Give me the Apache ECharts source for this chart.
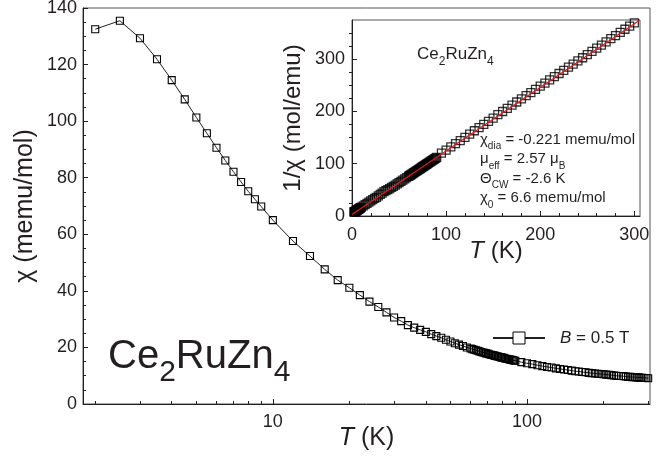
<!DOCTYPE html>
<html>
<head>
<meta charset="utf-8">
<script src="https://cdn.jsdelivr.net/npm/echarts@6/dist/echarts.min.js"></script>
<style>
  html, body { margin: 0; padding: 0; background: #fff; }
  #chart { width: 672px; height: 461px; }
</style>
</head>
<body>
<div id="chart"></div>
<script>
// temperatures (K), same grid for both panels
const temps = [2, 2.5, 3, 3.5, 4, 4.5, 5, 5.5, 6, 6.5, 7, 7.5, 8, 8.5, 9, 10,
  12, 14, 16, 18, 20, 22, 24, 26, 28, 30, 32, 34, 36, 38, 40, 42, 44,
  46, 48, 50, 52, 54, 56, 58,
  60, 61, 62, 63, 64, 65, 66, 67, 68, 69, 70, 71, 72, 73, 74, 75, 76, 77, 78, 79,
  80, 81, 82, 83, 84, 85, 86, 87, 88, 89, 90,
  95, 100, 105, 110, 115, 120, 125, 130, 135, 140, 145, 150, 155, 160, 165, 170,
  175, 180, 185, 190, 195, 200, 205, 210, 215, 220, 225, 230, 235, 240, 245, 250,
  255, 260, 265, 270, 275, 280, 285, 290, 295, 300]

// chi (memu/mol)
const chi = [132.5, 135.5, 129.3, 121.9, 114.5, 107.7, 101.3, 95.7, 90.6, 86.1, 82.1, 78.5, 75.2, 72.4, 69.8, 65.0,
  57.6, 52.3, 47.6, 43.8, 41.1, 38.5, 36.2, 34.3, 32.4, 30.6, 29.3, 27.9, 27.0, 26.2, 25.5, 24.7, 24.0,
  23.4, 22.7, 22.1, 21.5, 21.0, 20.5, 20.0,
  19.6, 19.4, 19.2, 19.0, 18.8, 18.6, 18.4, 18.2, 18.1, 17.9, 17.8, 17.6, 17.4, 17.3, 17.2, 17.0, 16.9, 16.8, 16.6, 16.5,
  16.4, 16.3, 16.1, 16.0, 15.9, 15.8, 15.7, 15.6, 15.5, 15.4, 15.3,
  14.8, 14.4, 14.1, 13.7, 13.4, 13.1, 12.9, 12.6, 12.4, 12.2, 12.0, 11.8, 11.6, 11.5, 11.3, 11.2,
  11.0, 10.9, 10.8, 10.7, 10.6, 10.5, 10.4, 10.3, 10.2, 10.1, 10.0, 9.9, 9.9, 9.8, 9.7, 9.6,
  9.6, 9.5, 9.5, 9.4, 9.4, 9.3, 9.3, 9.2, 9.2, 9.1]

// 1/chi (mol/emu), inset
const invChi = [7.9, 7.7, 8.1, 8.7, 9.3, 9.9, 10.5, 11.2, 11.9, 12.5, 13.2, 13.9, 14.5, 15.2, 15.8, 17.1,
  19.5, 21.8, 24.3, 26.7, 28.8, 31.2, 33.6, 35.8, 38.5, 41.3, 43.7, 46.5, 48.5, 50.5, 52.4, 54.6, 56.8,
  58.9, 61.3, 63.7, 66.1, 68.5, 71.0, 73.4,
  75.8, 77.0, 78.2, 79.4, 80.7, 81.9, 83.1, 84.3, 85.5, 86.7, 87.9, 89.1, 90.3, 91.6, 92.8, 94.0, 95.2, 96.4, 97.6, 98.8,
  100.0, 101.3, 102.5, 103.7, 104.9, 106.1, 107.3, 108.5, 109.7, 110.9, 112.1,
  120.2, 126.2, 132.3, 138.4, 144.4, 150.5, 156.5, 163.1, 169.1, 175.2, 181.2, 187.3, 193.9, 199.9, 206.0, 212.0,
  218.1, 224.1, 230.2, 236.2, 242.3, 248.3, 254.4, 260.5, 266.5, 272.6, 278.6, 284.7, 290.7, 296.8, 302.8, 308.9,
  314.9, 321.0, 327.0, 333.1, 339.2, 345.2, 351.3, 357.3, 363.4, 369.4]

// Curie-Weiss fit line in the inset
const fitT = [0, 306]
const fitInv = [3.1, 375]

// tick positions
const logMajor = [10, 100]
const logMinor = [2, 3, 4, 5, 6, 7, 8, 9, 20, 30, 40, 50, 60, 70, 80, 90, 200, 300]
const insetMajor = [0, 100, 200, 300]
const insetMinorX = [20, 40, 60, 80, 120, 140, 160, 180, 220, 240, 260, 280]
const insetMinorY = [25, 50, 75, 125, 150, 175, 225, 250, 275, 325, 350]

const font = '"Liberation Sans", Arial, Helvetica, sans-serif'
const ink = '#231f20'
const axisLine = {lineStyle: {color: ink, width: 1}}
const tickLabel = {color: ink, fontSize: 18, fontFamily: font}
const nameStyle = size => ({
  color: ink, fontSize: size, fontFamily: font,
  rich: {i: {fontStyle: 'italic', color: ink, fontSize: size, fontFamily: font}}
})

const chart = echarts.init(document.getElementById('chart'))

chart.setOption({
  animation: false,
  backgroundColor: '#fff',
  grid: [
    {left: 83, right: 22, top: 8, bottom: 57, show: true, borderColor: '#555', borderWidth: 1, outerBoundsMode: 'none'},
    {left: 352, right: 32, top: 20, bottom: 245, show: true, borderColor: '#555', borderWidth: 1, outerBoundsMode: 'none'}
  ],
  legend: {
    data: ['B = 0.5 T'],
    left: 492, top: 329.5, padding: 0,
    itemWidth: 52, itemHeight: 15,
    itemStyle: {color: '#fff', borderColor: '#000', borderWidth: 1},
    formatter: () => '{i|B} = 0.5 T',
    textStyle: {
      color: ink, fontSize: 17, fontFamily: font,
      rich: {i: {fontStyle: 'italic', color: ink, fontSize: 17, fontFamily: font, padding: [0, 0, 0, 10]}}
    }
  },
  xAxis: [
    {
      gridIndex: 0, type: 'log', logBase: 10, min: 1.79, max: 305, position: 'bottom',
      axisLine,
      axisTick: {inside: true, length: 5, customValues: logMajor, lineStyle: {color: ink}},
      axisLabel: {...tickLabel, customValues: logMajor, margin: 9},
      splitLine: {show: false},
      name: '{i|T} (K)', nameLocation: 'middle', nameGap: 22, nameMoveOverlap: false,
      nameTextStyle: nameStyle(25)
    },
    {
      gridIndex: 0, type: 'log', logBase: 10, min: 1.79, max: 305, position: 'bottom',
      axisLine: {show: false},
      axisTick: {inside: true, length: 3, customValues: logMinor, lineStyle: {color: ink}},
      axisLabel: {show: false},
      splitLine: {show: false}
    },
    {
      gridIndex: 1, type: 'value', min: 0, max: 306, position: 'bottom',
      axisLine,
      axisTick: {inside: true, length: 5, customValues: insetMajor, lineStyle: {color: ink}},
      axisLabel: {...tickLabel, customValues: insetMajor, margin: 10},
      splitLine: {show: false},
      name: '{i|T} (K)', nameLocation: 'middle', nameGap: 23, nameMoveOverlap: false,
      nameTextStyle: nameStyle(24)
    },
    {
      gridIndex: 1, type: 'value', min: 0, max: 306, position: 'bottom',
      axisLine: {show: false},
      axisTick: {inside: true, length: 3, customValues: insetMinorX, lineStyle: {color: ink}},
      axisLabel: {show: false},
      splitLine: {show: false}
    }
  ],
  yAxis: [
    {
      gridIndex: 0, type: 'value', min: 0, max: 140, interval: 20,
      axisLine: {show: true, ...axisLine},
      axisTick: {inside: true, length: 5, lineStyle: {color: ink}},
      minorTick: {show: true, splitNumber: 4, length: 3, lineStyle: {color: ink}},
      axisLabel: {...tickLabel, margin: 6},
      splitLine: {show: false},
      name: 'χ (memu/mol)', nameLocation: 'middle', nameGap: 45, nameMoveOverlap: false,
      nameTextStyle: nameStyle(25)
    },
    {
      gridIndex: 1, type: 'value', min: 0, max: 375,
      axisLine: {show: true, ...axisLine},
      axisTick: {inside: true, length: 5, customValues: insetMajor, lineStyle: {color: ink}},
      axisLabel: {...tickLabel, customValues: insetMajor, margin: 7},
      splitLine: {show: false},
      name: '1/χ (mol/emu)', nameLocation: 'middle', nameGap: 47, nameMoveOverlap: false,
      nameTextStyle: nameStyle(24)
    },
    {
      gridIndex: 1, type: 'value', min: 0, max: 375,
      axisLine: {show: false},
      axisTick: {inside: true, length: 3, customValues: insetMinorY, lineStyle: {color: ink}},
      axisLabel: {show: false},
      splitLine: {show: false}
    }
  ],
  series: [
    {
      name: 'B = 0.5 T', type: 'line', xAxisIndex: 0, yAxisIndex: 0,
      data: temps.map((t, i) => [t, chi[i]]),
      symbol: 'rect', symbolSize: 7, showAllSymbol: true,
      itemStyle: {color: 'rgba(255,255,255,0)', borderColor: '#000', borderWidth: 1.1},
      lineStyle: {color: ink, width: 1},
      emphasis: {disabled: true}
    },
    {
      type: 'scatter', xAxisIndex: 2, yAxisIndex: 1,
      data: temps.map((t, i) => [t, invChi[i]]),
      symbol: 'rect', symbolSize: 8,
      itemStyle: {color: 'rgba(255,255,255,0)', borderColor: '#000', borderWidth: 1.3},
      emphasis: {disabled: true}
    },
    {
      type: 'line', xAxisIndex: 2, yAxisIndex: 1,
      data: fitT.map((t, i) => [t, fitInv[i]]),
      symbol: 'none',
      lineStyle: {color: '#e3161c', width: 1.2},
      emphasis: {disabled: true}
    }
  ],
  graphic: [
    {
      type: 'text', left: 108, top: 337,
      style: {
        text: '{n|Ce}{s|2}{n|RuZn}{s|4}',
        rich: {
          n: {fontSize: 40, lineHeight: 43, verticalAlign: 'top', fontFamily: font, fill: ink},
          s: {fontSize: 30, lineHeight: 30, padding: [21, 0, 0, 0], verticalAlign: 'top', fontFamily: font, fill: ink}
        }
      }
    },
    {
      type: 'text', left: 417, top: 46,
      style: {
        text: '{n|Ce}{s|2}{n|RuZn}{s|4}',
        rich: {
          n: {fontSize: 17, lineHeight: 20, verticalAlign: 'top', fontFamily: font, fill: ink},
          s: {fontSize: 12, lineHeight: 12, padding: [10, 0, 0, 0], verticalAlign: 'top', fontFamily: font, fill: ink}
        }
      }
    },
    {
      type: 'text', left: 480, top: 132,
      style: {
        text: '{n|χ}{s|dia}{n| = -0.221 memu/mol}\n{n|μ}{s|eff}{n| = 2.57 μ}{s|B}\n{n|Θ}{s|CW}{n| = -2.6 K}\n{n|χ}{s|0}{n| = 6.6 memu/mol}',
        rich: {
          n: {fontSize: 15, lineHeight: 19.5, verticalAlign: 'top', fontFamily: font, fill: ink},
          s: {fontSize: 10, lineHeight: 10, padding: [9.5, 0, 0, 0], verticalAlign: 'top', fontFamily: font, fill: ink}
        }
      }
    }
  ]
})
</script>
</body>
</html>
